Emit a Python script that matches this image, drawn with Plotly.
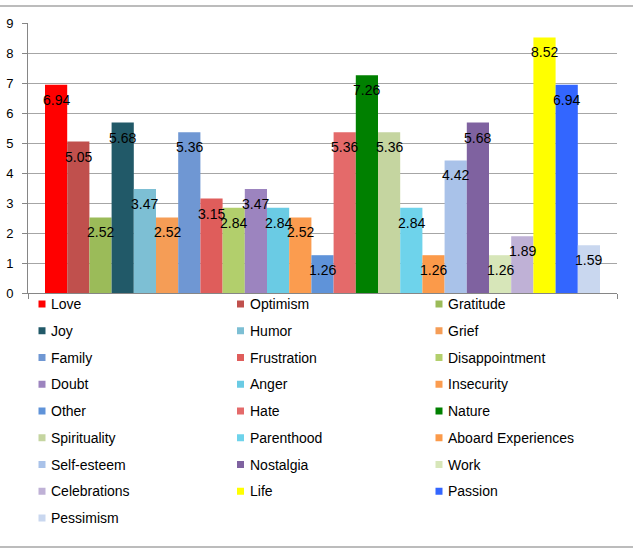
import plotly.graph_objects as go

categories = ["Love", "Optimism", "Gratitude", "Joy", "Humor", "Grief", "Family",
              "Frustration", "Disappointment", "Doubt", "Anger", "Insecurity", "Other",
              "Hate", "Nature", "Spirituality", "Parenthood", "Aboard Experiences",
              "Self-esteem", "Nostalgia", "Work", "Celebrations", "Life", "Passion",
              "Pessimism"]
values = [6.94, 5.05, 2.52, 5.68, 3.47, 2.52, 5.36, 3.15, 2.84, 3.47, 2.84, 2.52, 1.26,
          5.36, 7.26, 5.36, 2.84, 1.26, 4.42, 5.68, 1.26, 1.89, 8.52, 6.94, 1.59]
colors = ["#ff0000", "#c0504d", "#9bbb59", "#215968", "#7dbfd4", "#f59d56", "#6f97d3",
          "#df5d5b", "#b2cf6c", "#9c84bf", "#6acbe4", "#fb9c4f", "#5f93d9",
          "#e46a6a", "#008000", "#c5d5a0", "#6ed3eb", "#fb9a4a",
          "#a9c2e9", "#7f62a0", "#d7e6b9", "#bfb1d6", "#ffff00", "#3366ff",
          "#c9d7ef"]
y_ticks = [0, 1, 2, 3, 4, 5, 6, 7, 8, 9]

W, H = 633, 550
ML, MR, MT, MB = 28, 16, 23, 257
PW = W - ML - MR
PH = H - MT - MB
FONT = "Liberation Sans, Arial, sans-serif"
BARS_SPAN_PX = 555  # total width taken by the bar group inside the plot area

def px_x(px):
    return (px - ML) / PW

def px_y(py):
    return (H - MB - py) / PH

n = len(categories)
units = n * PW / BARS_SPAN_PX
pad = (units - n) / 2
x_range = [-0.5 - pad, n - 0.5 + pad]

fig = go.Figure()
label_annotations = []
for i, (name, v, c) in enumerate(zip(categories, values, colors)):
    fig.add_trace(go.Bar(
        name=name, x=[i], y=[v], width=1,
        marker=dict(color=c, line=dict(width=0)),
        showlegend=False,
    ))
    label_annotations.append(dict(
        xref="x", yref="y", x=i, y=v, yshift=-15, xanchor="center",
        yanchor="middle", text=f"{v:.2f}", showarrow=False,
        font=dict(family=FONT, size=14, color="#000000")))

shapes = []
legend_annotations = []
col_x = [49, 247.5, 446]
row_y0, row_dy = 304, 26.75
for i, (name, c) in enumerate(zip(categories, colors)):
    r, k = divmod(i, 3)
    tx = col_x[k]
    ty = row_y0 + r * row_dy
    shapes.append(dict(type="rect", xref="paper", yref="paper",
                       x0=px_x(tx - 10.5), x1=px_x(tx - 3.5),
                       y0=px_y(ty + 3.5), y1=px_y(ty - 3.5),
                       fillcolor=c, line=dict(width=0)))
    legend_annotations.append(dict(xref="paper", yref="paper", x=px_x(tx), y=px_y(ty),
                                   xanchor="left", yanchor="middle", text=name,
                                   showarrow=False,
                                   font=dict(family=FONT, size=14, color="#000000")))

for py in (6, 547):
    shapes.append(dict(type="line", xref="paper", yref="paper",
                       x0=px_x(-5), x1=px_x(W + 5), y0=px_y(py), y1=px_y(py),
                       line=dict(color="#a6a6a6", width=1.5)))

fig.update_layout(
    template="none",
    width=W, height=H,
    margin=dict(l=ML, r=MR, t=MT, b=MB, pad=0, autoexpand=False),
    paper_bgcolor="white", plot_bgcolor="white",
    barmode="overlay",
    font=dict(family=FONT, size=13, color="#000000"),
    shapes=shapes, annotations=label_annotations + legend_annotations,
    showlegend=False,
)
fig.update_xaxes(range=x_range, tickvals=x_range, showticklabels=False, showgrid=False,
                 showline=True, linecolor="#868686", linewidth=1,
                 ticks="outside", ticklen=5, automargin=False,
                 tickcolor="#868686", zeroline=False, fixedrange=True)
fig.update_yaxes(range=[0, 9], tickvals=y_ticks, showgrid=True, gridcolor="#a6a6a6",
                 gridwidth=1, showline=True, linecolor="#868686", linewidth=1,
                 ticks="outside", ticklen=5, tickcolor="#868686", automargin=False,
                 zeroline=False, tickfont=dict(family=FONT, size=13, color="#000000"),
                 ticklabelstandoff=6, fixedrange=True)

fig.write_html("out.html")
